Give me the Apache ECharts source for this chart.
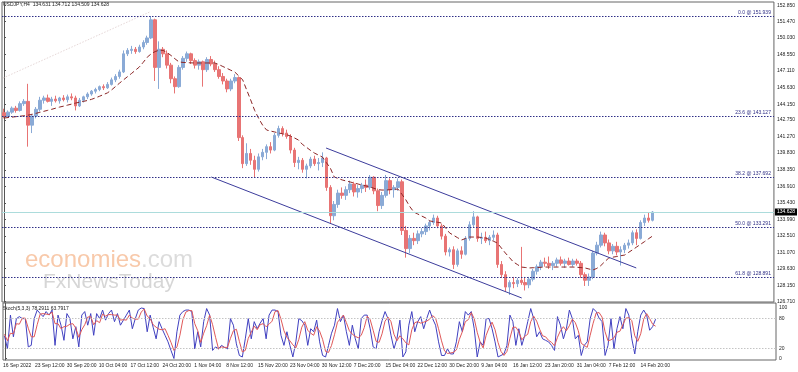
<!DOCTYPE html>
<html><head><meta charset="utf-8">
<script src="https://cdn.jsdelivr.net/npm/echarts@6/dist/echarts.min.js"></script>
<style>html,body{margin:0;padding:0;background:#fff}#c{width:798px;height:372px}</style>
</head><body><div id="c"></div>
<script>
const tickLabels = ["16 Sep 2022","23 Sep 12:00","30 Sep 20:00","10 Oct 04:00","17 Oct 12:00","24 Oct 20:00","1 Nov 04:00","8 Nov 12:00","15 Nov 20:00","23 Nov 04:00","30 Nov 12:00","7 Dec 20:00","15 Dec 04:00","22 Dec 12:00","30 Dec 20:00","9 Jan 04:00","16 Jan 12:00","23 Jan 20:00","31 Jan 04:00","7 Feb 12:00","14 Feb 20:00"];
const priceTicks = [152.85,151.47,150.03,148.55,147.11,145.63,144.15,142.75,141.27,139.83,138.35,136.91,135.43,133.99,132.51,131.07,129.63,128.15,126.71];
const stochTicks = [0,20,80,100];

const opens = [143.40,143.10,143.45,143.80,143.60,144.20,144.40,142.30,143.10,143.70,144.50,144.70,144.40,144.60,144.45,144.70,144.55,144.80,144.70,144.00,144.50,144.80,145.05,145.30,145.45,145.70,145.60,145.90,146.30,146.60,147.00,148.60,148.90,149.00,148.80,149.20,149.60,150.00,151.60,147.40,149.00,148.60,147.60,146.40,145.70,147.40,148.20,148.60,148.00,147.60,147.90,147.20,148.10,147.70,147.20,146.60,146.20,145.50,146.20,146.50,141.20,138.90,139.80,139.20,138.40,139.50,139.90,140.40,140.10,141.40,142.00,141.60,141.30,140.10,139.00,139.20,138.40,138.70,139.30,138.90,139.00,139.40,136.80,134.30,135.30,136.30,136.10,136.60,137.10,136.40,136.70,137.00,136.80,137.70,136.50,135.20,136.10,137.40,136.60,136.80,137.30,133.00,131.40,132.30,132.10,132.70,132.90,133.40,133.70,134.10,133.40,132.50,131.10,131.30,130.00,131.20,130.90,132.30,133.50,134.20,132.30,132.40,132.10,132.40,132.60,130.00,129.10,128.00,128.40,128.30,128.60,128.40,128.20,128.70,129.40,129.80,130.20,130.10,129.90,130.10,130.40,130.10,130.30,130.00,130.30,130.10,129.10,128.60,128.90,131.00,131.70,132.60,131.90,131.20,131.60,131.10,131.30,131.70,131.90,132.80,132.30,133.70,134.10,133.90];
const highs = [143.75,143.60,143.95,144.00,144.40,144.60,145.95,143.30,143.90,144.80,144.90,145.00,144.80,144.90,144.80,144.95,145.00,145.10,144.90,144.70,144.90,145.20,145.40,145.60,145.80,145.90,146.10,146.50,146.80,147.20,148.90,149.10,149.30,149.20,149.40,149.80,150.20,151.94,151.70,149.70,149.20,148.90,147.80,146.60,147.60,148.40,148.80,148.70,148.20,148.10,148.00,148.30,148.40,148.00,147.50,146.90,146.40,146.40,146.80,146.60,141.40,140.70,140.20,139.60,139.80,140.20,140.60,140.80,141.60,142.25,142.20,141.90,141.50,140.30,139.50,139.40,138.90,139.50,139.60,139.40,139.90,139.50,137.00,135.60,136.60,136.80,136.90,137.40,137.30,137.00,137.20,137.50,137.90,137.80,136.70,136.40,137.90,137.60,137.00,137.60,137.50,133.40,132.60,132.80,133.00,133.20,133.60,133.90,134.40,134.30,133.60,132.70,131.50,131.60,131.40,131.60,132.50,133.80,134.70,134.30,132.80,132.90,132.60,133.00,132.80,130.30,129.40,128.60,128.90,128.80,131.55,128.90,128.90,129.60,130.00,130.40,130.60,130.70,130.30,130.60,130.70,130.50,130.60,130.50,130.50,130.30,129.30,129.20,131.20,132.00,132.90,132.80,132.20,131.80,132.00,131.60,131.90,132.20,133.00,133.10,133.90,134.40,134.60,134.71];
const lows = [142.90,142.95,143.30,143.40,143.50,144.00,140.40,141.60,142.90,143.50,144.20,144.30,144.00,144.30,144.20,144.40,144.30,144.50,143.60,143.90,144.30,144.60,144.90,145.10,145.30,145.40,145.50,145.80,146.10,146.40,146.90,148.40,148.60,148.60,148.70,149.00,149.40,149.90,146.20,145.50,148.30,147.30,146.00,145.10,145.60,147.20,147.90,147.70,147.30,147.20,145.70,147.00,147.50,147.00,146.40,145.90,145.20,145.30,146.00,140.90,138.50,138.70,138.80,137.70,138.20,139.20,139.30,139.80,140.00,141.20,141.30,141.10,139.80,138.60,138.40,138.10,137.60,138.50,138.70,138.30,138.60,136.50,133.60,133.90,135.00,135.80,135.70,136.30,136.00,135.90,136.30,136.40,136.60,136.20,134.70,134.90,135.90,136.20,135.90,136.50,132.60,130.60,131.00,131.70,131.80,132.40,132.60,133.00,133.50,133.20,132.20,130.80,130.70,129.60,129.80,130.50,130.80,132.10,133.30,132.00,131.80,131.90,131.70,132.10,129.70,128.80,127.60,127.30,127.90,128.00,128.20,127.70,127.90,128.50,129.10,129.50,129.80,129.60,129.50,129.80,129.90,129.70,129.90,129.80,129.90,128.80,128.10,128.10,128.70,130.80,131.50,131.60,130.90,130.90,130.80,129.90,131.00,131.40,131.70,131.70,132.20,133.40,133.70,133.80];
const closes = [143.10,143.45,143.80,143.60,144.20,144.40,142.30,143.10,143.70,144.50,144.70,144.40,144.60,144.45,144.70,144.55,144.80,144.70,144.00,144.50,144.80,145.05,145.30,145.45,145.70,145.60,145.90,146.30,146.60,147.00,148.60,148.90,149.00,148.80,149.20,149.60,150.00,151.60,147.40,149.00,148.60,147.60,146.40,145.70,147.40,148.20,148.60,148.00,147.60,147.90,147.20,148.10,147.70,147.20,146.60,146.20,145.50,146.20,146.50,141.20,138.90,139.80,139.20,138.40,139.50,139.90,140.40,140.10,141.40,142.00,141.60,141.30,140.10,139.00,139.20,138.40,138.70,139.30,138.90,139.00,139.40,136.80,134.30,135.30,136.30,136.10,136.60,137.10,136.40,136.70,137.00,136.80,137.70,136.50,135.20,136.10,137.40,136.60,136.80,137.30,133.00,131.40,132.30,132.10,132.70,132.90,133.40,133.70,134.10,133.40,132.50,131.10,131.30,130.00,131.20,130.90,132.30,133.50,134.20,132.30,132.40,132.10,132.40,132.60,130.00,129.10,128.00,128.40,128.30,128.60,128.40,128.20,128.70,129.40,129.80,130.20,130.10,129.90,130.10,130.40,130.10,130.30,130.00,130.30,130.10,129.10,128.60,128.90,131.00,131.70,132.60,131.90,131.20,131.60,131.10,131.30,131.70,131.90,132.80,132.30,133.70,134.10,133.90,134.63];
const maValues = [142.93,142.97,143.01,143.05,143.09,143.13,143.18,143.25,143.34,143.43,143.52,143.61,143.70,143.80,143.90,143.98,144.07,144.16,144.25,144.33,144.40,144.48,144.58,144.71,144.85,145.00,145.15,145.40,145.70,146.00,146.29,146.57,146.85,147.14,147.43,147.85,148.30,148.60,148.80,148.92,148.90,148.70,148.45,148.15,147.88,147.84,147.82,147.80,147.79,147.79,147.79,147.79,147.79,147.79,147.65,147.48,147.32,147.15,146.99,146.65,146.29,145.40,144.52,143.60,142.90,142.30,141.87,141.78,141.70,141.61,141.54,141.46,141.34,141.17,140.99,140.60,140.35,140.08,139.84,139.66,139.49,139.00,138.52,137.72,137.59,137.46,137.37,137.28,137.19,137.10,137.01,136.93,136.84,136.72,136.60,136.57,136.57,136.60,136.63,136.66,136.20,135.70,135.10,134.63,134.45,134.27,134.10,133.84,133.78,133.72,133.66,133.22,132.78,132.57,132.36,132.16,132.29,132.42,132.42,132.42,132.38,132.34,132.20,132.05,131.89,131.45,131.01,130.62,130.22,130.00,129.77,129.73,129.69,129.71,129.73,129.75,129.77,129.77,129.77,129.77,129.77,129.77,129.77,129.77,129.75,129.72,129.69,129.60,129.51,129.65,129.90,130.25,130.57,130.64,130.70,130.77,130.83,131.07,131.30,131.54,131.78,132.02,132.27,132.51];
const stochMain = [45,19,86,43,79,83,79,79,23,26,79,96,89,83,93,86,96,26,86,66,36,89,79,39,63,23,86,93,66,89,46,89,79,96,76,89,96,73,89,66,76,86,96,59,79,96,100,99,53,86,62,39,73,59,46,33,16,0,53,86,93,96,96,93,19,53,23,73,99,86,16,23,19,26,22,19,79,66,29,6,3,39,79,39,73,59,70,79,39,86,96,96,93,46,26,53,26,3,33,79,75,66,26,59,53,76,33,6,3,26,50,66,99,73,86,53,26,66,39,19,79,86,86,59,23,19,53,75,93,79,46,19,39,76,3,13,66,93,53,73,83,59,79,96,79,66,33,6,6,19,9,9,33,73,53,93,86,93,59,3,33,26,79,79,59,33,3,6,9,26,86,73,26,59,26,46,73,99,79,43,53,39,36,33,26,16,83,66,39,59,96,79,39,46,6,26,33,79,99,93,80,73,6,26,79,19,59,83,59,99,86,39,9,53,86,96,86,56,63,78];
const stochSignal = [48,35,50,49,69,68,80,80,60,43,43,67,88,89,88,87,92,69,69,59,63,64,68,69,60,42,57,67,82,83,67,75,71,88,84,87,87,86,86,76,77,76,86,80,78,78,92,98,84,79,67,62,58,57,59,46,32,16,23,46,77,92,95,95,69,55,32,50,65,86,67,42,19,23,22,22,40,55,58,34,13,16,40,52,64,57,67,69,63,68,74,93,95,78,55,42,35,27,21,38,62,73,56,50,46,63,54,38,14,12,26,47,72,79,86,71,55,48,44,41,46,61,84,77,56,34,32,49,74,82,73,48,35,45,39,31,27,57,71,73,70,72,74,78,85,80,59,35,15,10,11,12,17,38,53,73,77,91,79,52,32,21,46,61,72,57,32,14,6,14,40,62,62,53,37,44,48,73,84,74,58,45,43,36,32,25,42,55,63,55,65,78,71,55,30,26,22,46,70,90,91,82,53,35,37,41,52,54,67,80,81,75,45,34,49,78,89,79,68,64];

const fibLevels = [151.939,143.127,137.692,133.291,128.891];
const fibNames = ['0.0','23.6','38.2','50.0','61.8'];
const lastPrice = 134.628;
const channelUpper = [[80.95,140.28],[158.9,129.69]];
const channelLower = [[52.1,137.72],[130.1,127.04]];
const faintLine = [[-0.25,146.46],[36.6,152.29]];

const N = 194, N2 = 260;
const FONT = 'Liberation Sans';
const candles = opens.map((o,i)=>[o, closes[i], lows[i], highs[i]]);
const catMain = Array.from({length:N},(_,i)=>String(i));
const catStoch = Array.from({length:N2},(_,i)=>String(i));
const dateVals = tickLabels.map((_,k)=>k*8-0.5);

const chart = echarts.init(document.getElementById('c'), null, {renderer:'canvas'});
const navy = '#2e2e86';
chart.setOption({
  animation:false,
  backgroundColor:'#ffffff',
  textStyle:{fontFamily:FONT},
  grid:[
    {left:2, right:22, top:2, height:300, show:true, borderColor:'#666', borderWidth:1},
    {left:2, right:22, top:303, height:57, show:true, borderColor:'#666', borderWidth:1}
  ],
  xAxis:[
    {type:'category', gridIndex:0, data:catMain, show:false, boundaryGap:true},
    {type:'value', gridIndex:0, min:-0.5, max:N-0.5, show:false},
    {type:'category', gridIndex:1, data:catStoch, show:false, boundaryGap:true},
    {type:'value', gridIndex:1, min:-0.5, max:N-0.5, position:'bottom',
      axisLine:{show:false}, axisTick:{show:false}, splitLine:{show:false},
      axisLabel:{customValues:dateVals, align:'left', fontSize:5, color:'#222', margin:3, fontFamily:FONT,
        formatter:(v)=>tickLabels[Math.round((v+0.5)/8)]||''}}
  ],
  yAxis:[
    {type:'value', gridIndex:0, position:'right', min:126.683, max:153.175,
      splitLine:{show:false}, axisLine:{show:true, lineStyle:{color:'#555'}},
      axisTick:{show:true, length:2, customValues:priceTicks, lineStyle:{color:'#555'}},
      axisLabel:{customValues:priceTicks, fontSize:5, color:'#222', margin:3, fontFamily:FONT, formatter:(v)=>v.toFixed(3)}},
    {type:'value', gridIndex:1, position:'right', min:-3, max:110,
      splitLine:{show:false}, axisLine:{show:true, lineStyle:{color:'#555'}},
      axisTick:{show:true, length:2, customValues:stochTicks, lineStyle:{color:'#555'}},
      axisLabel:{customValues:stochTicks, fontSize:5, color:'#222', margin:3, fontFamily:FONT}}
  ],
  graphic:[
    {type:'text', left:3, top:2, silent:true, style:{text:'USDJPY,H4  134.631 134.712 134.509 134.628', font:'5px '+FONT, fill:'#222'}},
    {type:'text', left:3, top:306, silent:true, style:{text:'Stoch(5,3,3) 78.2911 63.7917', font:'5px '+FONT, fill:'#222'}},
    {type:'text', x:25, y:260, silent:true, z:-1, style:{
      text:'{a|economies}{b|.com}', verticalAlign:'middle',
      rich:{a:{font:'24px '+FONT, fill:'#f8c9aa'}, b:{font:'24px '+FONT, fill:'#dcdcdc'}}}},
    {type:'text', x:43, y:282, silent:true, z:-1, style:{text:'FxNewsToday', verticalAlign:'middle', font:'21px '+FONT, fill:'#d6d6d6'}}
  ],
  series:[
    {type:'candlestick', xAxisIndex:0, yAxisIndex:0, data:candles, barWidth:3, silent:true,
      itemStyle:{color:'#8aaad6', color0:'#e87474', borderColor:'#8aaad6', borderColor0:'#e87474', borderWidth:1},
      markLine:{symbol:'none', silent:true, animation:false,
        data: fibLevels.map((v,k)=>({yAxis:v,
          lineStyle:{type:[1.5,1.5], color:navy, width:1},
          label:{show:true, position:'insideEndTop', distance:[3,1], formatter:fibNames[k]+' @ '+v.toFixed(3), color:navy, fontSize:5, fontFamily:FONT}}))
          .concat([{yAxis:lastPrice, lineStyle:{type:'solid', color:'#acdcdc', width:1},
            label:{show:true, position:'end', distance:1, formatter:lastPrice.toFixed(3), backgroundColor:'#000', color:'#fff', padding:[1,2,1,2], fontSize:5, fontFamily:FONT}}])
      }},
    {type:'line', xAxisIndex:0, yAxisIndex:0, data:maValues, symbol:'none', silent:true,
      lineStyle:{color:'#8b2525', width:1, type:[5,3]}},
    {type:'line', xAxisIndex:1, yAxisIndex:0, data:channelUpper, symbol:'none', silent:true, lineStyle:{color:'#3c3c9c', width:1}},
    {type:'line', xAxisIndex:1, yAxisIndex:0, data:channelLower, symbol:'none', silent:true, lineStyle:{color:'#3c3c9c', width:1}},
    {type:'line', xAxisIndex:1, yAxisIndex:0, data:faintLine, symbol:'none', silent:true, lineStyle:{color:'#e6d8d8', width:1, type:[1.5,1.5]}},
    {type:'line', xAxisIndex:2, yAxisIndex:1, data:stochMain, symbol:'none', silent:true, lineStyle:{color:'#4040c0', width:1},
      markLine:{symbol:'none', silent:true, label:{show:false}, data:[{yAxis:20},{yAxis:80}], lineStyle:{type:[1.5,1.5], color:'#c4c4c4', width:1}}},
    {type:'line', xAxisIndex:2, yAxisIndex:1, data:stochSignal, symbol:'none', silent:true, lineStyle:{color:'#e05858', width:1}}
  ]
});
</script></body></html>
